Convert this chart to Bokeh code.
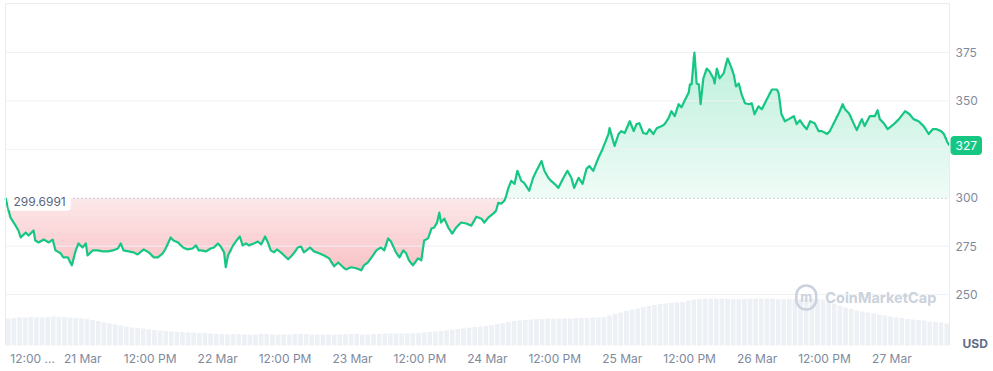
import numpy as np
import pandas as pd
from bokeh.plotting import figure
from bokeh.models import Range1d, Label
from bokeh.core.properties import value
from bokeh.embed import file_html
from bokeh.resources import INLINE

# ---------------- data ----------------
start_time = pd.Timestamp("2024-03-20 10:15")
first_tick_time = pd.Timestamp("2024-03-20 12:00")

# hours since start_time
hours = [
    0, 0.9, 1.8, 2.3, 2.7, 3.6, 4.1, 5.0, 5.3, 5.9,
    6.8, 7.7, 8.4, 8.9, 9.8, 10.3, 11.1, 11.8, 12.5, 13.0,
    13.7, 14.3, 14.6, 15.5, 16.4, 17.3, 18.2, 19.1, 20.0, 20.5,
    21.0, 21.9, 22.8, 23.5, 24.6, 25.5, 26.4, 27.1, 28.0, 28.5,
    29.4, 29.9, 30.7, 31.6, 32.4, 33.3, 33.9, 34.4, 34.8, 35.7,
    36.5, 37.1, 37.8, 38.3, 38.9, 39.2, 39.6, 40.5, 41.4, 41.7,
    42.2, 42.8, 43.3, 44.2, 44.9, 45.5, 46.2, 46.7, 47.2, 47.8,
    48.3, 49.0, 49.6, 50.3, 50.8, 51.3, 52.0, 52.6, 53.1, 53.8,
    54.2, 54.9, 55.8, 56.7, 57.6, 58.5, 59.2, 60.1, 60.6, 61.5,
    62.4, 63.3, 63.8, 64.5, 65.4, 66.0, 66.8, 67.4, 68.1, 68.6,
    69.5, 70.1, 70.8, 71.3, 71.8, 72.5, 73.4, 74.0, 74.5, 75.2,
    75.8, 76.3, 76.8, 77.2, 77.5, 78.1, 78.8, 79.5, 80.2, 81.1,
    82.0, 82.9, 83.8, 84.7, 85.2, 85.9, 86.8, 87.3, 87.7, 88.2,
    88.8, 89.1,
    89.5, 90.0, 90.6, 91.1, 91.8, 92.3, 93.2, 93.9, 94.5, 95.4,
    95.9, 96.6, 97.1, 97.7, 98.4, 99.3, 100.0, 100.7, 101.2, 102.0,
    102.7, 103.4, 103.9, 104.6, 105.5, 106.1, 106.6, 107.3, 107.5, 108.0,
    108.4, 109.1, 109.6, 110.2, 111.1, 111.8, 112.3, 112.8, 113.5, 114.1,
    114.6, 115.3, 115.9, 116.8, 117.3, 118.0, 118.5, 119.1, 119.8, 120.3,
    120.9, 121.6, 121.8, 122.1, 122.6, 123.0, 123.4, 123.7, 124.2, 124.8,
    125.3, 126.0, 126.2, 126.6, 127.1, 127.8, 128.5, 129.1, 129.6, 130.0,
    130.5, 131.0, 131.6, 132.3, 132.8, 133.3, 134.0, 134.6, 135.5, 136.4,
    137.3, 137.6, 138.1, 138.7, 139.4, 140.3, 140.8, 141.4, 142.1, 142.6,
    143.2, 144.0, 144.7, 145.3, 146.2, 146.7, 147.4, 148.3, 149.0, 149.4,
    150.1, 151.0, 151.5, 152.4, 152.9, 153.8, 154.7, 155.2, 155.6, 156.3,
    157.0, 158.1, 159.0, 160.1, 160.9, 161.6, 162.5, 163.4, 164.3, 165.0,
    165.7, 166.5, 167.0, 167.7, 168.0,
]

price = [
    299.7, 289.7, 285.6, 283.1, 279.5, 282.0, 280.5, 283.1, 277.9, 276.9,
    278.4, 276.9, 278.4, 272.8, 271.3, 269.2, 269.2, 265.1, 272.8, 276.4,
    274.3, 276.4, 270.2, 272.8, 272.8, 272.3, 272.3, 272.8, 273.8, 276.4,
    272.8, 272.3, 271.8, 270.7, 273.3, 271.8, 269.2, 269.2, 271.3, 273.8,
    279.5, 277.9, 276.9, 274.3, 273.3, 273.8, 275.4, 272.8, 272.8, 272.3,
    273.8, 274.3, 276.4, 274.8, 271.8, 264.1, 270.2, 275.4, 279.0, 280.0,
    275.4, 276.4, 275.4, 276.4, 277.4, 275.9, 280.0, 276.9, 272.8, 271.8,
    273.3, 271.8, 270.2, 268.2, 269.7, 271.3, 274.3, 274.8, 271.8, 273.3,
    274.3, 272.3, 271.3, 270.2, 268.7, 264.6, 266.6, 264.1, 263.0, 264.1,
    263.6, 262.5, 265.1, 266.6, 270.2, 272.8, 274.3, 272.8, 279.0, 277.4,
    271.8, 269.2, 272.8, 271.3, 267.7, 265.1, 268.7, 267.7, 277.9, 279.0,
    284.1, 284.6, 287.2, 292.3, 287.2, 289.2, 284.6, 281.5, 284.6, 287.2,
    286.7, 285.6, 290.2, 289.2, 287.2, 289.7, 291.8, 293.3, 297.4, 296.9,
    298.5, 301.0,
    305.1, 308.7, 307.2, 313.9, 308.7, 307.7, 303.6, 310.3, 313.9, 319.0,
    313.9, 310.3, 308.7, 307.2, 305.1, 310.3, 313.9, 310.3, 305.1, 310.3,
    307.2, 314.9, 316.4, 313.9, 320.5, 324.1, 327.7, 332.9, 336.0, 330.8,
    326.7, 332.9, 334.4, 333.4, 339.5, 334.4, 338.0, 338.5, 333.4, 332.9,
    335.4, 332.9, 335.9, 337.0, 338.0, 341.1, 344.7, 342.1, 348.3, 346.7,
    350.3, 354.4, 358.5, 358.5, 375.0, 359.0, 358.5, 348.3, 361.6, 366.7,
    365.2, 361.6, 359.0, 366.7, 361.6, 364.2, 371.9, 367.8, 363.6, 357.5,
    359.0, 353.4, 348.8, 348.3, 348.8, 343.1, 347.2, 345.7, 350.8, 355.9,
    355.9, 353.9, 343.1, 339.5, 340.6, 342.1, 338.0, 340.0, 337.0, 335.4,
    339.5, 338.5, 334.4, 334.4, 332.9, 334.4, 338.5, 343.6, 348.3, 345.7,
    343.6, 338.0, 334.9, 340.6, 337.0, 342.1, 342.1, 345.2, 340.6, 338.5,
    335.4, 338.0, 340.6, 344.7, 343.1, 340.6, 339.5, 337.0, 332.9, 335.4,
    335.4, 334.4, 332.9, 328.2, 327.0,
]

# hourly volume (arbitrary units, M USD)
volume = [
    54, 55, 56, 56, 57, 56, 56, 57, 58, 57, 57, 56, 55, 54,
    53, 51, 49, 46, 44, 42, 40, 38, 36, 35, 34,
    32, 31, 30, 29, 28, 27, 27, 26, 26, 25, 25,
    24, 23, 23, 22, 23, 23, 22, 22, 22, 23, 23, 22, 22, 22, 22, 23, 23, 23, 22,
    22, 22, 22, 22, 22, 23, 23, 23, 22, 22, 23, 23, 24, 24, 24, 24, 24, 24,
    25, 26, 27, 28, 29, 30, 32, 33, 34, 36, 37, 38, 39,
    41, 43, 45, 47, 49, 50, 51, 52, 53, 53, 54, 54, 54, 54, 54, 55, 55, 55, 56, 56, 57,
    60, 63, 66, 69, 72, 74, 77, 79, 81, 83, 84, 85, 86, 87,
    90, 92, 93, 94, 94, 94, 94, 94, 93, 93, 93, 94, 94, 94, 94, 94, 93, 93, 93, 93,
    93, 94, 94, 93, 92,
    88, 84, 80, 76, 73, 70, 68, 66, 64, 62, 60, 58, 56, 55, 53, 52, 51, 50, 48, 47, 46, 44,
]

tick_labels = ["12:00 ...", "21 Mar", "12:00 PM", "22 Mar", "12:00 PM", "23 Mar", "12:00 PM",
               "24 Mar", "12:00 PM", "25 Mar", "12:00 PM", "26 Mar", "12:00 PM", "27 Mar"]
y_ticks = [250, 275, 300, 325, 350, 375]
open_price = 299.6991
currency = "USD"
brand = "CoinMarketCap"

# ---------------- layout / styling ----------------
FONT = "Inter"
RED = "#ea3943"
GREEN = "#16c784"
MUTED = "#808a9d"
GRID = "#eff2f5"
BORDER = "#e9ecf1"

W, H = 992, 370                 # canvas = plot frame
CHART_L, CHART_R = 5, 949       # chart box in pixels
CHART_T, CHART_B = 3, 345
PRICE_TOP, PRICE_BOTTOM = 400.3, 223.7   # price values at chart box top/bottom

h = np.array(hours, dtype=float)
pr = np.array(price, dtype=float)

px_per_h = (CHART_R - CHART_L) / (h[-1] - h[0])
px_per_unit = (CHART_B - CHART_T) / (PRICE_TOP - PRICE_BOTTOM)
x0 = h[0] - CHART_L / px_per_h
x1 = h[-1] + (W - CHART_R) / px_per_h
y0 = PRICE_BOTTOM - (H - CHART_B) / px_per_unit
y1 = PRICE_TOP + CHART_T / px_per_unit

# split at the crossing of the opening price
idx = int(np.argmax(pr > open_price))
ha, hb, pa, pb = h[idx - 1], h[idx], pr[idx - 1], pr[idx]
hc = ha + (open_price - pa) / (pb - pa) * (hb - ha)
red_h = np.append(h[:idx], hc)
red_p = np.append(pr[:idx], open_price)
green_h = np.insert(h[idx:], 0, hc)
green_p = np.insert(pr[idx:], 0, open_price)
full_h = np.concatenate([red_h, green_h[1:]])
full_p = np.concatenate([red_p, green_p[1:]])

t0 = (first_tick_time - start_time) / pd.Timedelta(hours=1)
tick_hours = [t0 + 12.0 * k for k in range(len(tick_labels))]

p = figure(width=W, height=H, x_range=Range1d(x0, x1), y_range=Range1d(y0, y1),
           x_axis_type=None, y_axis_type=None,
           output_backend="svg", toolbar_location=None,
           min_border=0, min_border_left=0, min_border_right=0,
           min_border_top=0, min_border_bottom=0,
           background_fill_color="white", border_fill_color="white",
           outline_line_color=None)

# volume
vol_per_px = max(volume) / 47.0
p.extra_y_ranges = {"vol": Range1d(-(H - CHART_B) * vol_per_px, CHART_B * vol_per_px)}
p.vbar(x=np.arange(len(volume)) + 0.5, top=volume, bottom=0, width=0.82, y_range_name="vol",
       fill_color="#edf0f4", line_color=None)


def tint(rgb, t):
    return "#%02x%02x%02x" % tuple(int(round(255 - (255 - c) * t)) for c in rgb)


# green gradient (stronger toward top)
step = 3.0
a = open_price
while a < pr.max():
    t = 0.07 + 0.22 * min(1.0, (a - open_price) / 75.0)
    p.varea(x=full_h, y1=a, y2=np.maximum(full_p, a),
            fill_color=tint((22, 199, 132), t), fill_alpha=1.0)
    a += step

# red gradient (stronger toward bottom)
b = open_price
while b > pr.min():
    t = 0.12 + 0.20 * min(1.0, (open_price - b) / 38.0)
    p.varea(x=full_h, y1=np.minimum(full_p, b), y2=b,
            fill_color=tint((234, 57, 67), t), fill_alpha=1.0)
    b -= step

# horizontal grid
grid_levels = [v for v in y_ticks if v != 300]
p.segment(x0=[h[0]] * len(grid_levels), x1=[h[-1]] * len(grid_levels),
          y0=grid_levels, y1=grid_levels, line_color=GRID, line_width=1)

# baseline (opening price)
p.line([h[0], h[-1]], [open_price, open_price], line_color="#9aa3b5", line_width=1,
       line_dash="1 3")

p.line(red_h, red_p, line_color=RED, line_width=2.2, line_join="round")
p.line(green_h, green_p, line_color=GREEN, line_width=2.2, line_join="round")

# chart box border (left, top, right)
p.segment(x0=[h[0], h[0], h[-1]], x1=[h[0], h[-1], h[-1]],
          y0=[PRICE_BOTTOM, PRICE_TOP, PRICE_BOTTOM], y1=[PRICE_TOP, PRICE_TOP, PRICE_TOP],
          line_color=BORDER, line_width=1)

# y tick labels (right)
p.text(x=[h[-1]] * len(y_ticks), y=y_ticks, text=[str(v) for v in y_ticks],
       x_offset=6, text_align="left", text_baseline="middle",
       text_font=value(FONT), text_font_size="12px", text_color=MUTED)

# x tick labels (below)
p.text(x=tick_hours[1:], y=[PRICE_BOTTOM] * (len(tick_hours) - 1), text=tick_labels[1:],
       y_offset=13, text_align="center", text_baseline="middle",
       text_font=value(FONT), text_font_size="12px", text_color=MUTED)
p.text(x=[tick_hours[0]], y=[PRICE_BOTTOM], text=[tick_labels[0]],
       x_offset=-5, y_offset=13, text_align="left", text_baseline="middle",
       text_font=value(FONT), text_font_size="12px", text_color=MUTED)

# currency
p.text(x=[h[-1]], y=[PRICE_BOTTOM], text=[currency], x_offset=13, y_offset=-2,
       text_align="left", text_baseline="middle", text_font=value(FONT),
       text_font_size="12px", text_font_style="bold", text_color="#616e85")

# opening price label
p.add_layout(Label(x=h[0], y=open_price, text=f"{open_price}", x_offset=3, y_offset=-3,
                   text_align="left", text_baseline="middle", text_font=FONT,
                   text_font_size="12px", text_color="#58667e",
                   background_fill_color="white", padding=5, border_radius=4))

# last price badge
p.add_layout(Label(x=h[-1], y=pr[-1], text=f"{pr[-1]:.0f}", x_offset=1,
                   text_align="left", text_baseline="middle", text_font=FONT,
                   text_font_size="12px", text_color="white",
                   background_fill_color=GREEN, padding=5, border_radius=4))

# watermark
wm_x, wm_y = 145.9, 248.5
p.add_layout(Label(x=wm_x, y=wm_y, text=brand, text_align="left", text_baseline="middle",
                   text_font=FONT, text_font_size="14.5px", text_font_style="bold",
                   text_color="#cbd2dc"))
p.add_layout(Label(x=wm_x, y=wm_y, text="m", x_offset=-29, text_align="left",
                   text_baseline="middle", text_font=FONT, text_font_size="13px",
                   text_font_style="bold", text_color="#cbd2dc",
                   border_line_color="#cbd2dc", border_line_width=2.5,
                   padding=4, border_radius=11))

open("out.html", "w").write(file_html(p, INLINE))
